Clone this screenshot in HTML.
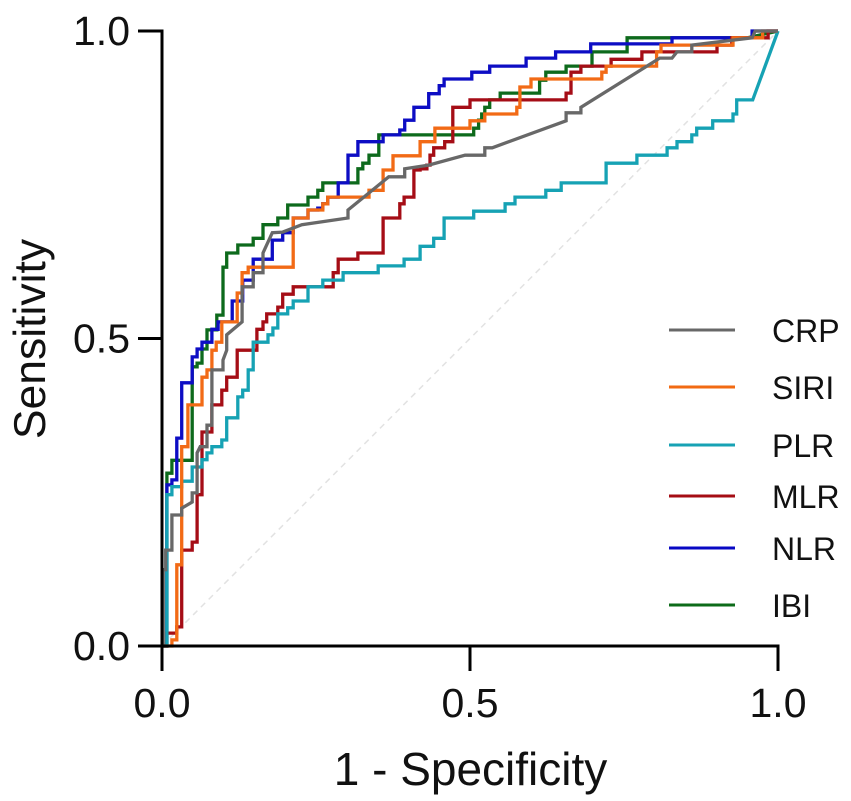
<!DOCTYPE html>
<html lang="en">
<head>
<meta charset="utf-8">
<title>ROC curves</title>
<style>
html,body{margin:0;padding:0;background:#fff;width:851px;height:801px;overflow:hidden}
svg{display:block}
text{font-family:"Liberation Sans",Arial,sans-serif;fill:#111}
</style>
</head>
<body>
<svg id="chart" xmlns="http://www.w3.org/2000/svg" width="851" height="801" viewBox="0 0 851 801">
<g id="plot" filter="url(#soft)"></g>
<g id="axes"></g>
<g id="legend"></g>
<text transform="translate(45,339) rotate(-90)" text-anchor="middle" font-size="44.5">Sensitivity</text>
<text x="470.5" y="785" text-anchor="middle" font-size="46">1 - Specificity</text>
<defs><filter id="soft" x="-5%" y="-5%" width="110%" height="110%"><feGaussianBlur stdDeviation="0.3"/></filter></defs>
</svg>
<script>
var xTicks = [0, 0.5, 1];
var yTicks = [0, 0.5, 1];
var xTickLabels = ['0.0', '0.5', '1.0'];
var yTickLabels = ['0.0', '0.5', '1.0'];
var legendLabels = ['CRP', 'SIRI', 'PLR', 'MLR', 'NLR', 'IBI'];

var ibiFpr = [.008,.016,.049,.057,.065,.073,.089,.099,.105,.123,.148,.164,.188,.204,.237,.253,.261,.318,.326,.336,.352,.506,.514,.519,.524,.532,.549,.613,.623,.656,.698,.755,.950];
var ibiTpr = [.281,.302,.454,.460,.483,.514,.538,.616,.639,.652,.663,.685,.696,.717,.730,.741,.753,.776,.785,.798,.831,.842,.855,.865,.876,.888,.899,.920,.933,.943,.966,.989,.989];

var nlrFpr = [.008,.016,.024,.032,.049,.057,.065,.081,.091,.114,.131,.148,.179,.196,.213,.237,.253,.261,.269,.286,.302,.318,.359,.386,.394,.409,.433,.450,.458,.503,.532,.591,.639,.696,.828,.958];
var nlrTpr = [.262,.270,.338,.428,.470,.483,.494,.515,.527,.561,.595,.629,.660,.672,.696,.709,.712,.719,.730,.753,.798,.820,.831,.839,.855,.876,.898,.911,.922,.933,.943,.956,.966,.979,.989,1];

var mlrFpr = [.008,.024,.032,.049,.057,.065,.081,.097,.105,.122,.154,.164,.170,.188,.196,.213,.278,.286,.318,.359,.386,.393,.409,.419,.430,.435,.441,.459,.472,.500,.656,.664,.680,.729,.779,.901,.925,.984];
var mlrTpr = [.021,.031,.156,.169,.246,.348,.392,.416,.437,.481,.515,.527,.540,.551,.572,.584,.607,.629,.639,.696,.719,.730,.774,.776,.782,.798,.810,.820,.876,.888,.899,.933,.943,.954,.966,.977,.989,1];

var plrFpr = [.008,.016,.032,.049,.065,.073,.081,.097,.105,.123,.131,.140,.148,.172,.180,.188,.204,.213,.237,.261,.294,.351,.393,.419,.441,.458,.506,.557,.573,.623,.648,.721,.771,.820,.836,.860,.868,.894,.927,.933,.959];
var plrTpr = [.246,.259,.268,.291,.303,.314,.324,.335,.371,.405,.416,.449,.494,.506,.517,.540,.550,.561,.584,.595,.607,.618,.629,.650,.663,.696,.707,.719,.730,.741,.753,.785,.798,.810,.820,.831,.842,.854,.865,.888,.888];

var siriFpr = [.016,.024,.024,.032,.042,.065,.073,.081,.088,.097,.122,.130,.140,.213,.237,.261,.269,.336,.359,.375,.419,.443,.500,.524,.576,.581,.599,.714,.721,.803,.810,.927,.975];
var siriTpr = [.010,.023,.132,.324,.392,.437,.449,.481,.494,.527,.574,.607,.616,.696,.709,.719,.730,.741,.774,.797,.820,.842,.854,.865,.876,.909,.922,.933,.943,.966,.977,.989,1];

var crpFpr = [0,.002,.002,.006,.006,.016,.016,.032,.032,.049,.049,.057,.057,.062,.073,.073,.081,.081,.099,.099,.105,.105,.130,.130,.148,.148,.164,.164,.179,.196,.227,.302,.302,.368,.394,.394,.433,.492,.524,.524,.536,.656,.656,.680,.680,.808,.828,.836,.860,.860,.958,.963,1];
var crpTpr = [0,0,.124,.124,.156,.156,.213,.213,.224,.234,.249,.249,.314,.324,.324,.359,.359,.449,.449,.465,.481,.506,.527,.584,.584,.607,.607,.639,.672,.673,.685,.696,.709,.763,.763,.776,.782,.798,.798,.810,.810,.854,.867,.867,.876,.956,.956,.966,.966,.977,.989,1,1];

function xScale(v) { return 162 + v * 616; }
function yScale(v) { return 646 - v * 615; }
var NS = 'http://www.w3.org/2000/svg';
function make(tag, attrs, parent) {
  var el = document.createElementNS(NS, tag);
  for (var k in attrs) el.setAttribute(k, attrs[k]);
  parent.appendChild(el);
  return el;
}
function stepPath(fpr, tpr) {
  var d = 'M' + xScale(0) + ' ' + yScale(0);
  for (var i = 0; i < fpr.length; i++) {
    d += 'H' + xScale(fpr[i]).toFixed(1) + 'V' + yScale(tpr[i]).toFixed(1);
  }
  return d + 'L' + xScale(1) + ' ' + yScale(1);
}
function linePath(fpr, tpr) {
  var d = '';
  for (var i = 0; i < fpr.length; i++) {
    d += (i ? 'L' : 'M') + xScale(fpr[i]).toFixed(1) + ' ' + yScale(tpr[i]).toFixed(1);
  }
  return d;
}

var plot = document.getElementById('plot');
var axes = document.getElementById('axes');
var legend = document.getElementById('legend');
var common = { fill: 'none', 'stroke-width': 3.3, 'stroke-linejoin': 'miter' };

var diag = make('line', { x1: xScale(0), y1: yScale(0), x2: xScale(1), y2: yScale(1), stroke: '#e2e2e2', 'stroke-width': 1.5, 'stroke-dasharray': '6 5' }, plot);



var ibiLine = make('path', common, plot);
ibiLine.setAttribute('d', stepPath(ibiFpr, ibiTpr));
ibiLine.setAttribute('stroke', '#0d6b1a');



var nlrLine = make('path', common, plot);
nlrLine.setAttribute('d', stepPath(nlrFpr, nlrTpr));
nlrLine.setAttribute('stroke', '#0808c4');



var mlrLine = make('path', common, plot);
mlrLine.setAttribute('d', stepPath(mlrFpr, mlrTpr));
mlrLine.setAttribute('stroke', '#a50d14');



var plrLine = make('path', common, plot);
plrLine.setAttribute('d', stepPath(plrFpr, plrTpr));
plrLine.setAttribute('stroke', '#17a2b4');



var siriLine = make('path', common, plot);
siriLine.setAttribute('d', stepPath(siriFpr, siriTpr));
siriLine.setAttribute('stroke', '#f26a12');



var crpLine = make('path', common, plot);
crpLine.setAttribute('d', linePath(crpFpr, crpTpr));
crpLine.setAttribute('stroke', '#686868');



var yAxisLine = make('line', { x1: 162, y1: yScale(1) - 1.5, x2: 162, y2: 671, stroke: '#000', 'stroke-width': 3 }, axes);


var xAxisLine = make('line', { x1: 138, y1: 646, x2: xScale(1) + 1.5, y2: 646, stroke: '#000', 'stroke-width': 3 }, axes);



xTicks.forEach(function (t, i) {
  var tick = make('line', { x1: xScale(t), y1: 646, x2: xScale(t), y2: 671, stroke: '#000', 'stroke-width': 3 }, axes);
  
  
  var label = make('text', { x: xScale(t), y: 717, 'text-anchor': 'middle', 'font-size': 41 }, axes);
  label.textContent = xTickLabels[i];
  
  
});
yTicks.forEach(function (t, i) {
  var tick = make('line', { x1: 138, y1: yScale(t), x2: 162, y2: yScale(t), stroke: '#000', 'stroke-width': 3 }, axes);
  
  
  var label = make('text', { x: 130, y: yScale(t) + 14, 'text-anchor': 'end', 'font-size': 41 }, axes);
  label.textContent = yTickLabels[i];
  
  
});

var legendColors = ['#686868', '#f26a12', '#17a2b4', '#a50d14', '#0808c4', '#0d6b1a'];
var legendRows = [330, 387, 445, 496, 548, 605];
legendLabels.forEach(function (name, i) {
  var swatch = make('line', { x1: 669, y1: legendRows[i], x2: 735, y2: legendRows[i], stroke: legendColors[i], 'stroke-width': 3 }, legend);
  
  
  var label = make('text', { x: 772, y: legendRows[i] + 12, 'font-size': 32 }, legend);
  label.textContent = name;
  
  
});
</script>
</body>
</html>
